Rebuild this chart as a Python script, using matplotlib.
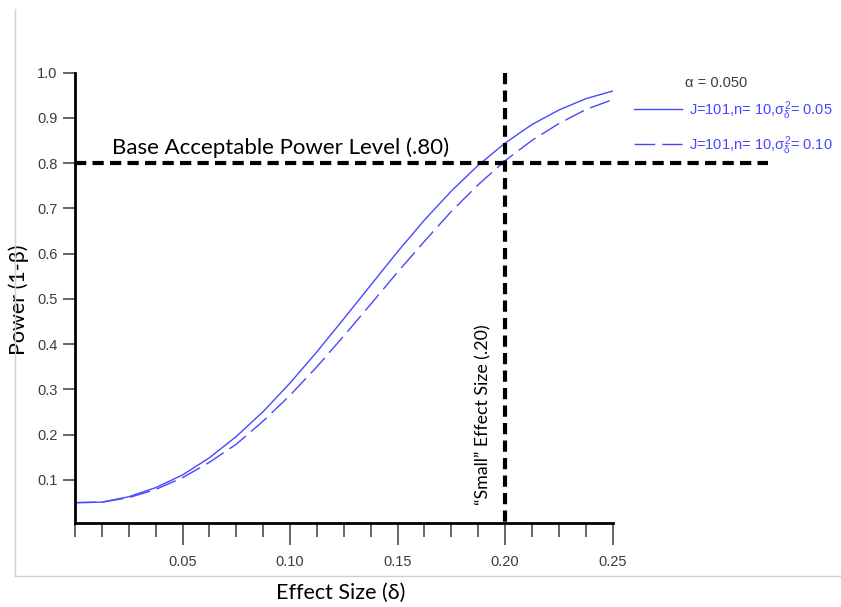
import matplotlib
matplotlib.use("Agg")
import matplotlib.pyplot as plt
from matplotlib.lines import Line2D
from matplotlib.ticker import MultipleLocator

plt.rcParams['mathtext.fontset'] = 'custom'
plt.rcParams['mathtext.rm'] = 'Liberation Sans'
plt.rcParams['mathtext.it'] = 'Liberation Sans'
plt.rcParams['mathtext.bf'] = 'Liberation Sans:bold'

# ---- data ----
effect_size = [0.0, 0.0125, 0.025, 0.0375, 0.05, 0.0625, 0.075, 0.0875, 0.10, 0.1125,
               0.125, 0.1375, 0.15, 0.1625, 0.175, 0.1875, 0.20, 0.2125, 0.225, 0.2375, 0.25]
power_var05 = [0.050, 0.051, 0.063, 0.083, 0.111, 0.149, 0.196, 0.251, 0.314, 0.383,
               0.456, 0.530, 0.604, 0.674, 0.738, 0.795, 0.844, 0.885, 0.917, 0.942, 0.959]
power_var10 = [0.050, 0.051, 0.061, 0.079, 0.105, 0.139, 0.179, 0.230, 0.287, 0.350,
               0.418, 0.488, 0.559, 0.627, 0.693, 0.752, 0.805, 0.850, 0.887, 0.918, 0.940]
label_var05 = r'J=101,n= 10,$\sigma_\delta^2$= 0.05'
label_var10 = r'J=101,n= 10,$\sigma_\delta^2$= 0.10'
alpha_text = 'α = 0.050'
x_ticks = [0.05, 0.10, 0.15, 0.20, 0.25]
x_ticklabels = ['0.05', '0.10', '0.15', '0.20', '0.25']
y_ticks = [0.1, 0.2, 0.3, 0.4, 0.5, 0.6, 0.7, 0.8, 0.9, 1.0]
y_ticklabels = ['0.1', '0.2', '0.3', '0.4', '0.5', '0.6', '0.7', '0.8', '0.9', '1.0']
acceptable_power = 0.80
small_effect = 0.20

W, H = 841, 607
fig = plt.figure(figsize=(W / 100, H / 100), dpi=100)
ax = fig.add_axes([75 / W, 1 - 523 / H, (612.5 - 75) / W, (523 - 72.5) / H])

blue = '#4747ff'
tick_gray = '#3c3c3c'
ann_font = 'Lato'

ax.plot(effect_size, power_var05, color=blue, lw=1.0, label=label_var05)
ax.plot(effect_size, power_var10, color=blue, lw=1.0, dashes=(15, 5), label=label_var10)

ax.set_xlim(0, 0.25)
ax.set_ylim(0.005, 1.0)

# reference lines extending beyond axes
ax.plot([0, 0.3225], [acceptable_power, acceptable_power], color='black', lw=3,
        dashes=(2.7, 1.5), clip_on=False, zorder=5)
ax.plot([small_effect, small_effect], [1.0, -0.004], color='black', lw=3,
        dashes=(2.7, 1.5), clip_on=False, zorder=5)

for s in ['top', 'right']:
    ax.spines[s].set_visible(False)
for s in ['left', 'bottom']:
    ax.spines[s].set_linewidth(2.0)
    ax.spines[s].set_color('black')

ax.set_xticks(x_ticks)
ax.set_xticklabels(x_ticklabels)
ax.xaxis.set_minor_locator(MultipleLocator(0.0125))
ax.set_yticks(y_ticks)
ax.set_yticklabels(y_ticklabels)
ax.tick_params(axis='x', which='major', length=16, width=1.1, color=tick_gray, pad=7,
               labelsize=10.5, labelcolor=tick_gray)
ax.tick_params(axis='x', which='minor', length=10, width=1.1, color=tick_gray)
ax.tick_params(axis='y', which='major', length=8.6, width=1.1, color=tick_gray, pad=4,
               labelsize=10.5, labelcolor=tick_gray)
for lab in ax.get_xticklabels() + ax.get_yticklabels():
    lab.set_family('Liberation Sans')

ax.set_xlabel('Effect Size (δ)', fontsize=15.5, family=ann_font)
ax.xaxis.set_label_coords(341 / W, 1 - 593 / H, transform=fig.transFigure)
ax.xaxis.label.set_va('center')
ax.set_ylabel('Power (1-β)', fontsize=15.5, family=ann_font)
ax.yaxis.set_label_coords(19 / W, 1 - 300 / H, transform=fig.transFigure)
ax.yaxis.label.set_va('center')

ax.text(0.0173, 0.812, 'Base Acceptable Power Level (.80)', fontsize=16,
        family=ann_font, ha='left', va='bottom')
ax.text(0.1935, 0.045, '“Small” Effect Size (.20)', fontsize=12.8, family=ann_font,
        rotation=90, ha='right', va='bottom')

leg = ax.legend(loc='upper left', bbox_to_anchor=(634 / W, 1 - 99 / H),
                bbox_transform=fig.transFigure, frameon=False,
                handlelength=3.3, handletextpad=0.5,
                labelspacing=0.85, borderpad=0, borderaxespad=0,
                prop={'family': 'Liberation Sans', 'size': 10.5})
for t in leg.get_texts():
    t.set_color(blue)
fig.text(716 / W, 1 - 83 / H, alpha_text, fontsize=10.5, family='Liberation Sans',
         color=tick_gray, ha='center', va='center')

# light gray frame of the screenshot
fig.add_artist(Line2D([15.5 / W, 15.5 / W], [1 - 9 / H, 1 - 576 / H], color='#d0d0d0', lw=1,
                      transform=fig.transFigure))
fig.add_artist(Line2D([15.5 / W, 1.0], [1 - 576 / H, 1 - 576 / H], color='#d0d0d0', lw=1,
                      transform=fig.transFigure))

fig.savefig('out.png', dpi=100)
